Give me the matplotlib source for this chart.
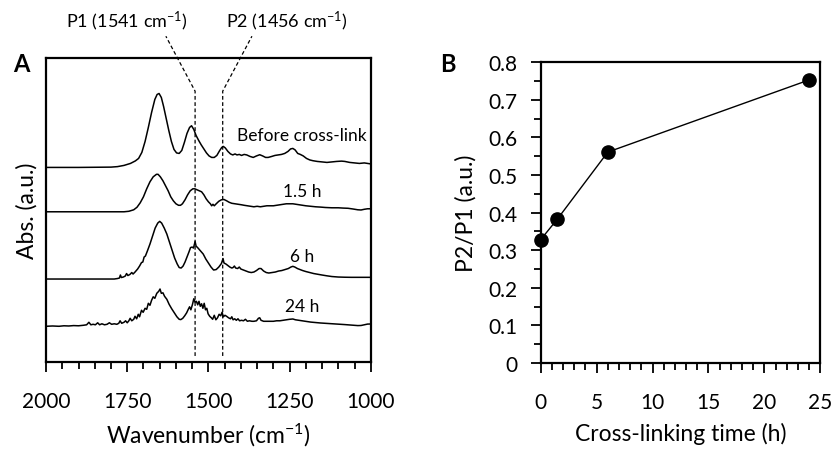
import numpy as np
import matplotlib
matplotlib.use('Agg')
import matplotlib.pyplot as plt
from matplotlib.ticker import MultipleLocator

plt.rcParams['font.family'] = ['Lato', 'DejaVu Sans']
plt.rcParams['mathtext.fontset'] = 'custom'
plt.rcParams['mathtext.rm'] = 'Lato'
plt.rcParams['mathtext.it'] = 'Lato:italic'

# ---- panel A: FTIR spectra (height above own baseline, a.u. x100) ----
wn_before = [2000, 1900, 1800, 1780, 1760, 1740, 1725, 1715, 1705, 1695, 1685, 1675, 1665, 1658, 1652,
             1645, 1638, 1630, 1622, 1614, 1606, 1598, 1590, 1582, 1574, 1566, 1558, 1552, 1545, 1538,
             1530, 1522, 1514, 1506, 1498, 1490, 1482, 1474, 1466, 1459, 1454, 1448, 1440, 1432, 1425,
             1418, 1412, 1405, 1398, 1390, 1382, 1372, 1362, 1352, 1342, 1333, 1324, 1316, 1305, 1295,
             1285, 1275, 1265, 1255, 1247, 1240, 1233, 1225, 1217, 1208, 1198, 1188, 1178, 1165, 1150,
             1135, 1120, 1105, 1090, 1080, 1065, 1050, 1035, 1020, 1010, 1000]
abs_before = [0, 0, 0.3, 0.8, 2, 4, 6.5, 9, 15, 26, 40, 55, 68, 73, 74,
              70, 61, 49, 37, 26, 18, 14.5, 14, 17, 25, 34, 40, 41.7, 38, 32,
              27, 22.5, 18.5, 14.5, 11.5, 10, 10, 12, 16.5, 20, 21, 19.5, 16, 13.5, 12.5,
              13.5, 12.5, 13, 12, 13, 12.5, 11, 10, 11.5, 12.7, 11.5, 10, 10, 11, 12,
              12.5, 13, 14, 16, 18.5, 19, 17.5, 14, 13, 11.5, 9, 7.5, 6.7, 6, 5.5,
              5, 5.5, 6, 6.3, 6, 5, 4.5, 4, 4.5, 4, 3.5]

wn_15h = [2000, 1760, 1745, 1730, 1720, 1710, 1700, 1690, 1680, 1670, 1660, 1655, 1648, 1640, 1632,
          1624, 1616, 1608, 1600, 1592, 1586, 1580, 1572, 1564, 1556, 1548, 1542, 1535, 1528, 1521,
          1514, 1507, 1500, 1494, 1490, 1486, 1482, 1476, 1468, 1460, 1452, 1444, 1436, 1428, 1418,
          1408, 1398, 1390, 1380, 1370, 1360, 1350, 1340, 1330, 1320, 1310, 1300, 1290, 1280, 1270,
          1260, 1250, 1240, 1230, 1220, 1210, 1200, 1185, 1170, 1155, 1140, 1120, 1100, 1085, 1070,
          1055, 1040, 1030, 1020, 1010, 1000]
abs_15h = [0, 0, 0.5, 2, 4.5, 9, 15, 23, 30, 35, 37.5, 37.5, 35, 31, 26,
           21, 15, 11, 8, 6.5, 6.5, 8, 12, 17, 21, 23, 23, 22, 21, 20,
           17, 13, 10, 8, 6, 7.5, 6, 8, 10.5, 12, 12.3, 11, 9.5, 8.5, 8,
           7.5, 7, 6.5, 6, 5.5, 5, 5.5, 5, 5.5, 6, 6, 6, 6.5, 7, 7.5,
           8, 8, 8, 7.5, 7, 6.5, 6, 5.5, 5, 4.7, 4.3, 4, 4, 3.7, 3.5,
           2.8, 2, 1.8, 2.5, 3, 3]

wn_6h = [2000, 1790, 1780, 1774, 1771, 1768, 1762, 1756, 1752, 1748, 1742, 1736, 1732, 1726, 1718,
         1712, 1706, 1702, 1698, 1694, 1688, 1680, 1672, 1664, 1656, 1650, 1644, 1636, 1628, 1620,
         1612, 1604, 1596, 1590, 1584, 1578, 1572, 1566, 1560, 1555, 1550, 1546, 1541, 1538, 1532,
         1524, 1516, 1508, 1500, 1492, 1484, 1476, 1468, 1460, 1455, 1452, 1446, 1440, 1434, 1428,
         1424, 1420, 1416, 1410, 1405, 1400, 1392, 1384, 1376, 1368, 1360, 1352, 1344, 1338, 1330,
         1322, 1314, 1304, 1294, 1284, 1274, 1264, 1254, 1246, 1240, 1234, 1226, 1218, 1210, 1200,
         1188, 1176, 1164, 1150, 1135, 1120, 1100, 1080, 1060, 1040, 1020, 1000]
abs_6h = [0, 0, 0.5, 1, 4, 1.5, 2, 3, 5.5, 3.5, 4.5, 6.5, 5, 7, 10,
          13, 16.5, 17, 22, 23, 28, 35, 43, 51, 56, 57.7, 56, 51, 45, 37,
          29, 21, 15, 11.5, 11, 13, 17, 22, 27, 31.5, 32, 31, 37.5, 33, 31,
          28, 25, 20, 16, 12, 9, 9.5, 12, 15.5, 20.5, 16, 15, 13.5, 12, 11,
          11.5, 13, 11, 10.5, 12, 10, 9, 8, 7, 6.5, 7, 8.5, 10.5, 10.5, 8,
          6.5, 6, 6.5, 7, 8, 8.5, 9.5, 10.5, 12, 12.7, 12, 10.5, 9.5, 8.5, 7.5,
          6.5, 5.5, 4.8, 4, 3.2, 2.5, 2, 1.8, 1.7, 1.7, 1.7, 1.7]

wn_24h = [2000, 1980, 1960, 1945, 1930, 1915, 1900, 1885, 1875, 1868, 1862, 1855, 1848, 1841, 1835,
          1828, 1820, 1812, 1805, 1798, 1790, 1782, 1776, 1772, 1767, 1760, 1755, 1750, 1745, 1741,
          1736, 1730, 1726, 1721, 1716, 1712, 1706, 1701, 1695, 1690, 1685, 1680, 1675, 1670, 1665,
          1659, 1653, 1649, 1645, 1640, 1635, 1628, 1621, 1613, 1605, 1597, 1590, 1585, 1579, 1573,
          1567, 1562, 1558, 1554, 1549, 1545, 1541, 1537, 1533, 1529, 1525, 1521, 1517, 1513, 1509,
          1505, 1501, 1496, 1491, 1487, 1482, 1477, 1472, 1467, 1462, 1458, 1454, 1449, 1444, 1438,
          1432, 1428, 1424, 1419, 1414, 1409, 1404, 1398, 1392, 1386, 1380, 1374, 1366, 1360, 1352,
          1346, 1342, 1338, 1330, 1320, 1310, 1300, 1290, 1280, 1270, 1260, 1250, 1240, 1232, 1222,
          1212, 1200, 1185, 1170, 1155, 1140, 1125, 1110, 1095, 1080, 1065, 1050, 1040, 1030, 1020,
          1010, 1000]
abs_24h = [0, 0.3, 0, 0.5, 0.3, 0.7, 0.5, 1, 1.5, 4, 1.5, 2, 1.5, 3.5, 1.5,
           2.5, 1.5, 2, 3.5, 2, 2.5, 2, 3, 5.5, 3, 4, 5.5, 3.5, 5.5, 8,
           5.5, 7, 10, 7.5, 12, 9.5, 16, 14, 18, 17, 23, 21, 26, 29.5, 28,
           33, 35, 37.3, 33, 33.5, 30, 27, 22, 17.5, 13.5, 9.5, 7, 6.7, 8, 10.5,
           13.5, 17, 19.5, 16.5, 22, 27.5, 24, 25, 21.5, 25, 20, 22.5, 18, 23, 16.5,
           18, 12.5, 10, 8.5, 7, 11, 6.5, 8.5, 12, 10.5, 14, 9.5, 11, 10, 8.5,
           7.5, 9.5, 6.5, 7.5, 6, 7.5, 5.5, 6, 5.5, 7, 5, 5.5, 5, 5, 5.5,
           8, 8.5, 6, 5, 5, 5, 5, 5.5, 5.5, 6, 6.5, 7, 7.3, 6.5, 6,
           5.5, 4.8, 4.2, 3.7, 3.3, 3, 2.6, 2.3, 2, 1.7, 1.3, 1, 0.7, 0.8, 1.5,
           2.2, 2.3]

spectra = [(wn_before, abs_before), (wn_15h, abs_15h), (wn_6h, abs_6h), (wn_24h, abs_24h)]
labels = ['Before cross-link', '1.5 h', '6 h', '24 h']
offsets = [194.7, 150.3, 83, 35.7]
label_y = [227.3, 171.3, 106.3, 55.7]

peak_pos = [1541, 1456]
peak_names = ['P1 (1541 cm$^{-1}$)', 'P2 (1456 cm$^{-1}$)']

# ---- panel B: ratio ----
time_h = [0, 1.5, 6, 24]
ratio = [0.328, 0.383, 0.561, 0.753]

fig = plt.figure(figsize=(8.37, 4.52), dpi=100)
axA = fig.add_axes([0.055, 0.197, 0.388, 0.672])
axB = fig.add_axes([0.646, 0.195, 0.334, 0.665])

for (wn, a), off in zip(spectra, offsets):
    axA.plot(wn, np.array(a) + off, color='black', lw=1.1)
for lab, ly in zip(labels, label_y):
    axA.text(1211, ly, lab, ha='center', va='center', fontsize=12.5)

# dashed guides for P1 / P2
tops = [1631, 1366]
for p, t in zip(peak_pos, tops):
    axA.plot([p, p, t], [6, 271, 326], color='black', lw=0.9, ls=(0, (3, 2)), clip_on=False)
for name, tx in zip(peak_names, [1751, 1258]):
    axA.text(tx, 342, name, ha='center', va='center', fontsize=13, clip_on=False)

axA.set_xlim(2000, 1000)
axA.set_ylim(0, 304)
axA.set_yticks([])
axA.xaxis.set_major_locator(MultipleLocator(250))
axA.xaxis.set_minor_locator(MultipleLocator(50))
axA.tick_params(axis='x', which='major', length=7, width=1.3, labelsize=15, pad=14)
axA.tick_params(axis='x', which='minor', length=5, width=1.3)
axA.set_xlabel('Wavenumber (cm$^{-1}$)', fontsize=16.5, labelpad=7)
axA.set_ylabel('Abs. (a.u.)', fontsize=16.5, labelpad=6)
for s in axA.spines.values():
    s.set_linewidth(1.6)

axB.plot(time_h, ratio, color='black', lw=1, marker='o', ms=9.5, clip_on=False, zorder=3)
axB.set_xlim(0, 25)
axB.set_ylim(0, 0.8)
axB.xaxis.set_major_locator(MultipleLocator(5))
axB.xaxis.set_minor_locator(MultipleLocator(1))
axB.yaxis.set_minor_locator(MultipleLocator(0.05))
axB.set_yticks([0, 0.1, 0.2, 0.3, 0.4, 0.5, 0.6, 0.7, 0.8])
axB.set_yticklabels(['0', '0.1', '0.2', '0.3', '0.4', '0.5', '0.6', '0.7', '0.8'])
axB.tick_params(which='major', length=7, width=1.3, labelsize=15)
axB.tick_params(which='minor', length=5, width=1.3)
axB.tick_params(axis='x', which='major', pad=14)
axB.tick_params(axis='y', which='major', pad=10)
axB.set_xlabel('Cross-linking time (h)', fontsize=16.5, labelpad=7)
axB.set_ylabel('P2/P1 (a.u.)', fontsize=16.5, labelpad=8)
for s in axB.spines.values():
    s.set_linewidth(1.6)

fig.text(0.026, 0.857, 'A', fontsize=17, fontweight='bold', ha='center', va='center')
fig.text(0.535, 0.857, 'B', fontsize=17, fontweight='bold', ha='center', va='center')

fig.savefig('out.png', dpi=100)
